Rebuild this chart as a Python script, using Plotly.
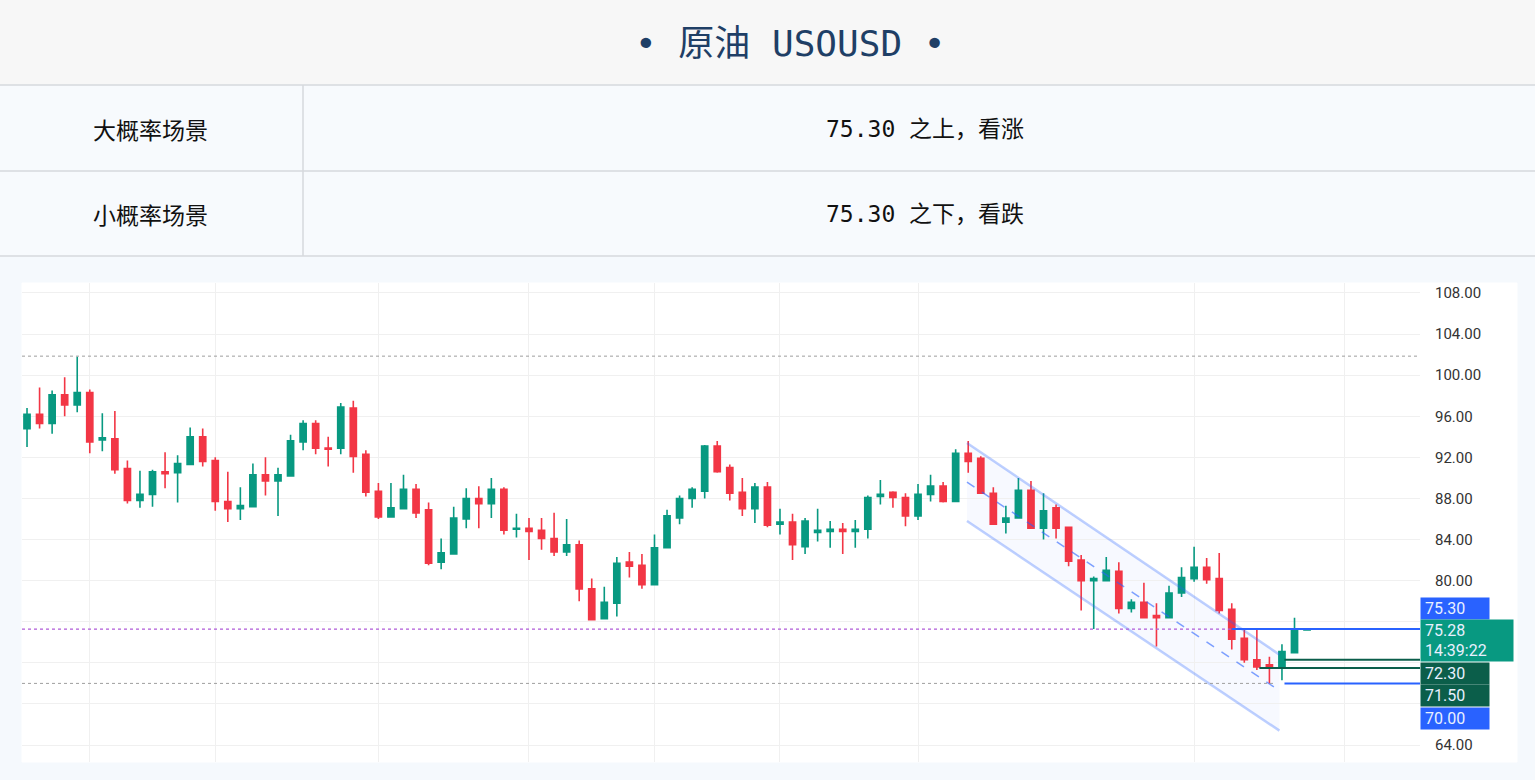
import plotly.graph_objects as go

W, H = 1535, 780
opens = [94.8,96.2,95.3,98.1,97.1,98.3,93.7,93.8,90.9,87.8,88.4,90.6,90.5,91.3,94.0,91.7,87.7,87.0,87.2,90.3,
         89.7,90.2,93.5,95.3,92.9,92.9,96.8,92.3,88.7,86.2,87.0,88.9,86.9,81.8,82.6,86.0,88.0,87.5,88.9,85.0,
         85.1,84.9,84.1,82.8,83.5,79.2,76.3,77.8,81.8,81.5,79.6,83.2,86.1,88.0,88.7,93.1,91.0,88.6,87.0,89.1,
         85.5,85.7,83.3,84.7,84.8,85.0,84.8,85.0,88.2,88.6,88.1,86.3,88.4,89.2,87.7,92.4,91.9,88.5,85.7,86.1,
         88.8,85.1,87.1,85.2,82.0,80.0,80.0,80.9,77.3,77.9,76.6,76.4,78.8,80.2,81.3,80.2,77.2,74.4,72.3,71.8,
         71.6,73.0,75.2]
highs = [96.8,98.8,98.5,99.8,101.8,98.6,96.3,96.5,91.7,90.7,90.8,92.5,92.2,94.9,94.8,92.0,90.6,89.1,91.4,92.0,
         91.0,94.2,95.6,95.6,94.0,97.3,97.5,92.7,89.5,89.5,90.3,89.4,87.6,84.1,87.2,89.0,89.2,90.0,89.1,86.5,
         86.1,86.1,86.6,86.0,83.9,80.2,79.4,82.3,82.8,82.6,84.5,86.9,88.3,89.1,93.2,93.6,91.3,90.0,89.5,89.6,
         87.0,86.5,86.1,87.0,85.8,85.6,85.9,88.3,89.8,88.7,88.5,89.4,90.3,89.6,92.8,93.6,92.1,89.1,87.3,90.0,
         89.7,88.5,87.4,85.2,82.5,80.4,82.3,81.8,78.2,79.8,77.8,79.5,81.3,83.3,82.2,82.7,77.8,75.3,75.3,72.6,
         73.8,76.4,75.4]
lows = [93.0,94.8,94.3,96.0,96.4,92.4,92.6,90.4,87.5,87.1,87.2,89.0,87.6,91.3,91.1,86.8,85.7,85.9,87.2,88.3,
        86.3,90.2,92.7,92.3,91.1,92.3,90.5,88.2,86.0,86.2,87.0,86.1,81.5,81.1,82.6,85.1,85.1,86.1,84.5,84.2,
        82.0,83.0,82.4,82.4,78.0,76.2,76.3,76.5,80.3,79.2,79.6,83.2,85.5,87.1,88.0,90.5,87.8,86.3,85.6,85.2,
        84.5,82.0,82.6,83.8,83.2,82.6,83.2,84.1,87.4,87.1,85.3,85.9,87.7,87.6,87.7,90.5,88.5,85.5,84.6,86.1,
        85.1,84.0,84.1,81.4,77.1,75.3,80.0,76.8,76.9,76.4,73.6,76.4,78.4,79.9,79.7,76.8,73.3,72.0,71.3,70.0,
        70.3,73.0,75.2]
closes = [96.2,95.3,98.1,97.1,98.3,93.5,93.9,90.8,87.8,88.4,90.6,90.4,91.4,94.0,91.6,87.7,87.0,87.3,90.3,89.7,
          90.3,93.6,95.3,92.9,92.8,96.9,92.1,88.6,86.2,87.1,88.9,86.6,81.7,82.7,86.1,88.0,87.5,88.9,84.9,85.1,
          84.8,84.1,82.8,83.5,79.2,76.2,77.9,81.7,81.4,79.6,83.2,86.3,88.0,88.9,93.1,90.6,88.5,87.0,89.1,85.4,
          85.7,83.5,85.8,84.9,85.0,84.8,85.0,88.1,88.4,88.1,86.3,88.4,89.2,87.7,92.4,91.6,88.5,85.5,86.1,88.8,
          85.1,86.8,85.1,81.9,80.0,80.2,81.0,77.3,77.9,76.4,76.4,78.8,80.3,81.3,80.1,77.1,74.3,72.3,71.6,71.6,
          73.1,75.2,75.28]
idx = list(range(len(opens)))

ytick_vals = [64, 80, 84, 88, 92, 96, 100, 104, 108]
grid_vals = [64, 68, 72, 76, 80, 84, 88, 92, 96, 100, 104, 108]
vgrid_idx = [5, 15, 28, 40, 50, 60, 71, 93, 105]

# channel lines: (x0, y0, x1, y1)
chan_upper = (74.9, 93.4, 99.8, 72.8)
chan_mid = (74.9, 89.6, 99.8, 69.3)
chan_lower = (74.9, 85.8, 99.8, 65.4)

levels = {"res": 75.30, "cur": 75.28, "t1": 72.30, "t2": 71.50, "sup": 70.00, "hi": 101.85}

XD = (22 / W, 1420 / W)
YD = (1 - 762 / H, 1 - 283 / H)

fig = go.Figure()
fig.add_trace(go.Candlestick(
    x=idx, open=opens, high=highs, low=lows, close=closes,
    increasing=dict(line=dict(color="#089981", width=1.6), fillcolor="#089981"),
    decreasing=dict(line=dict(color="#f23645", width=1.6), fillcolor="#f23645"),
    whiskerwidth=0, showlegend=False, hoverinfo="skip"))

shapes = []
def prect(x0, y0, x1, y1, fill, line=None):
    shapes.append(dict(type="rect", xref="paper", yref="paper", x0=x0 / W, x1=x1 / W,
                       y0=1 - y1 / H, y1=1 - y0 / H, fillcolor=fill,
                       line=dict(color=line or fill, width=1), layer="below"))
prect(0, 0, W, 85, "#f7f7f7", "#f7f7f7")
prect(0, 85, W, 256, "#f7fafd", "#f7fafd")
prect(0, 256, W, H, "#f5f9fd", "#f5f9fd")
prect(22, 283, 1517, 762, "#ffffff")
for yy in (85, 171, 256):
    shapes.append(dict(type="line", xref="paper", yref="paper", x0=0, x1=1, y0=1 - yy / H, y1=1 - yy / H,
                       line=dict(color="#d6d9dc", width=1.5)))
shapes.append(dict(type="line", xref="paper", yref="paper", x0=303 / W, x1=303 / W, y0=1 - 256 / H, y1=1 - 85 / H,
                   line=dict(color="#d6d9dc", width=1.5)))

def dline(x0, y0, x1, y1, color, width=1, dash="solid", xref="x"):
    shapes.append(dict(type="line", xref=xref, yref="y", x0=x0, x1=x1, y0=y0, y1=y1,
                       line=dict(color=color, width=width, dash=dash)))

shapes.append(dict(type="path", xref="x", yref="y",
                   path=f"M{chan_upper[0]},{chan_upper[1]} L{chan_upper[2]},{chan_upper[3]} L{chan_lower[2]},{chan_lower[3]} L{chan_lower[0]},{chan_lower[1]} Z",
                   fillcolor="rgba(41,98,255,0.035)", line=dict(width=0), layer="below"))
dline(*chan_upper, "rgba(41,98,255,0.3)", 2.5)
dline(*chan_lower, "rgba(41,98,255,0.3)", 2.5)
dline(*chan_mid, "rgba(41,98,255,0.6)", 1.5, "dash")

xr = [-0.4, 111]
dline(xr[0], levels["hi"], xr[1], levels["hi"], "#9e9e9e", 1, "dot")
dline(xr[0], levels["sup"], 99.5, levels["sup"], "#9e9e9e", 1, "dot")
dline(xr[0], levels["cur"], xr[1], levels["cur"], "#b05bd8", 1.2, "dot")
dline(96, levels["res"], xr[1], levels["res"], "#2962ff", 2)
dline(100.2, levels["t1"], xr[1], levels["t1"], "#0b5e4a", 2)
dline(98.2, levels["t2"], xr[1], levels["t2"], "#0b5e4a", 2)
dline(100.2, levels["sup"], xr[1], levels["sup"], "#2962ff", 2)

annos = []
annos.append(dict(xref="paper", yref="paper", x=790 / W, y=1 - 43 / H, xanchor="center", yanchor="middle", showarrow=False,
                  text="• 原油 USOUSD •", font=dict(size=36, color="#1f3f66", family="DejaVu Sans Mono, Noto Sans CJK SC")))
rows = [("大概率场景", "75.30 之上，看涨", 129), ("小概率场景", "75.30 之下，看跌", 214)]
for a, b, yy in rows:
    annos.append(dict(xref="paper", yref="paper", x=150 / W, y=1 - yy / H, xanchor="center", yanchor="middle",
                      showarrow=False, text=a, font=dict(size=23, color="#111", family="Noto Sans CJK SC")))
    annos.append(dict(xref="paper", yref="paper", x=925 / W, y=1 - yy / H, xanchor="center", yanchor="middle",
                      showarrow=False, text=b,
                      font=dict(size=23, color="#111", family="DejaVu Sans Mono, Noto Sans CJK SC")))

def tag(text, ycen, color, w=68, h=21):
    annos.append(dict(xref="paper", yref="paper", x=1420 / W, y=1 - ycen / H, xanchor="left", yanchor="middle",
                      showarrow=False, text=text, align="left", bgcolor=color, borderpad=0, width=w, height=h,
                      font=dict(size=16, color="#e8f0ff", family="Roboto")))
tag(f" {levels['res']:.2f}", 608, "#2962ff")
tag(f" {levels['cur']:.2f}<br> 14:39:22", 640, "#089981", w=92, h=41)
tag(f" {levels['t1']:.2f}", 673, "#0b5e4a")
tag(f" {levels['t2']:.2f}", 695, "#0b5e4a")
tag(f" {levels['sup']:.2f}", 718, "#2962ff")

fig.update_layout(
    width=W, height=H, margin=dict(l=0, r=0, t=0, b=0), paper_bgcolor="#f5f9fd", plot_bgcolor="rgba(0,0,0,0)",
    shapes=shapes, annotations=annos,
    xaxis=dict(domain=list(XD), range=xr, rangeslider=dict(visible=False), showticklabels=False,
               tickvals=vgrid_idx, showgrid=True, gridcolor="#f0f0f0", zeroline=False, showline=False),
    yaxis=dict(domain=list(YD), range=[62.35, 108.97], side="right", tickvals=grid_vals,
               ticktext=[f"{v:.2f}" if v in ytick_vals else "" for v in grid_vals],
               showgrid=True, gridcolor="#f0f0f0", zeroline=False, ticklabelstandoff=14,
               tickfont=dict(size=15, color="#333", family="Roboto")),
)
fig.write_html("out.html", config={"displayModeBar": False},
               post_script="document.body.style.margin='0';document.body.style.overflow='hidden';")
